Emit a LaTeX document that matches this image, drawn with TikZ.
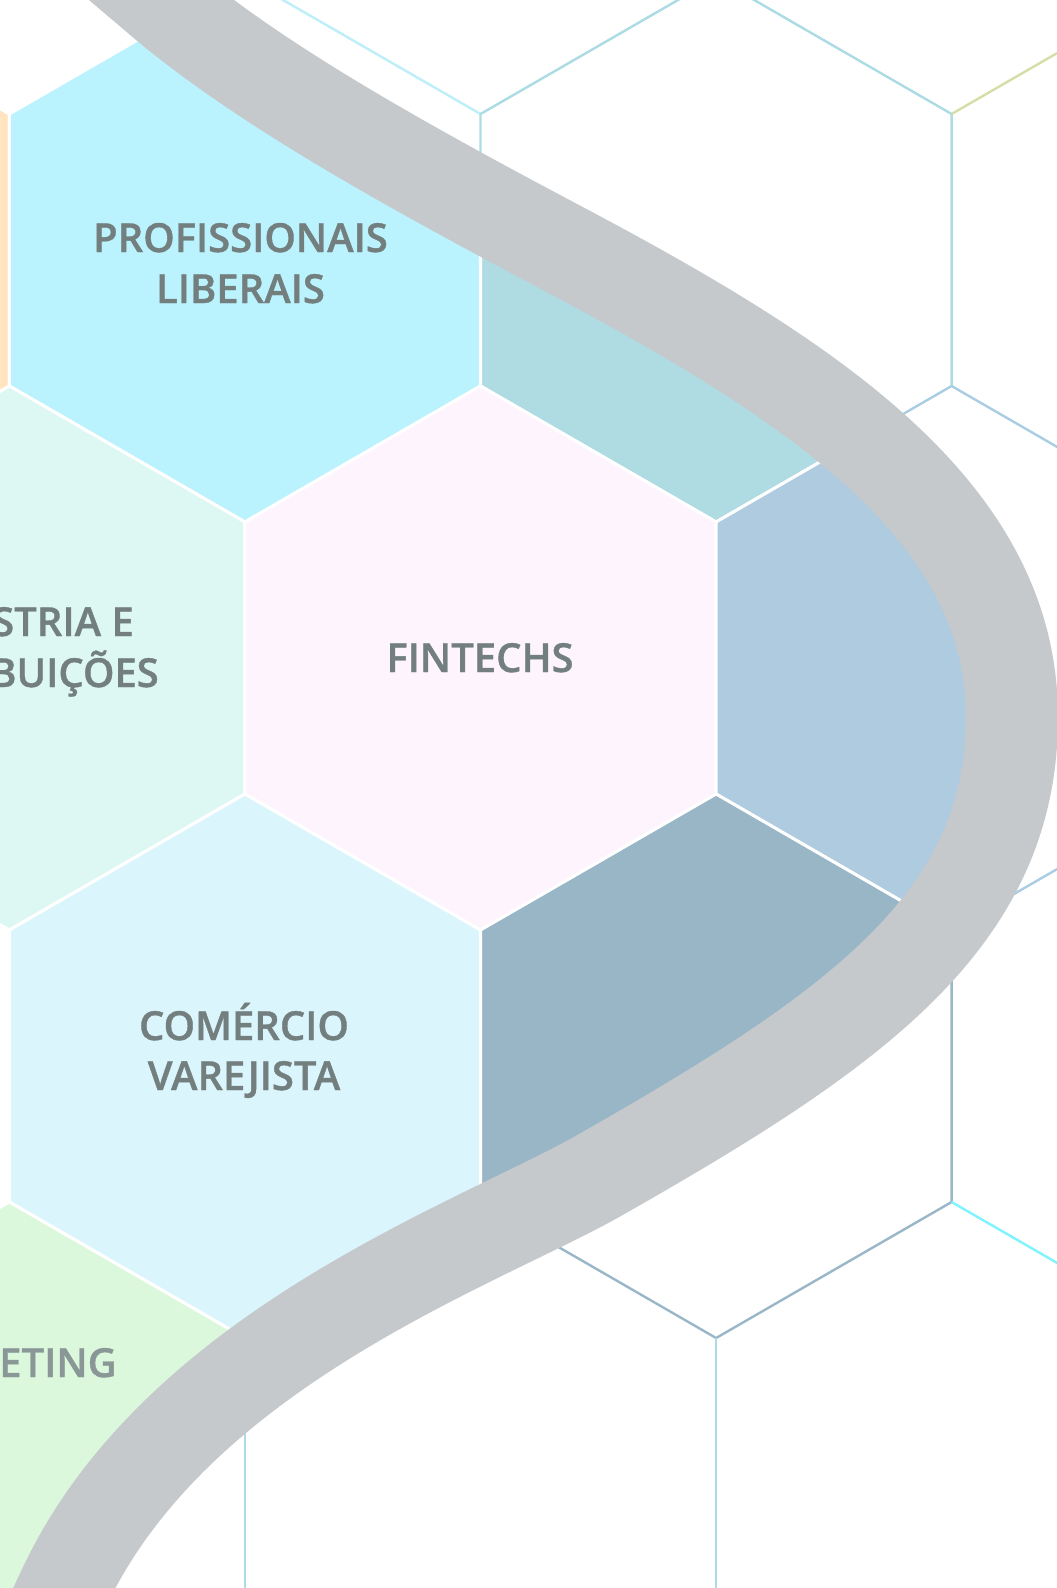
\documentclass[tikz,border=0pt]{standalone}
\usepackage{fontspec}
\IfFontExistsTF{Open Sans SemiBold}{\newfontfamily\lab{Open Sans SemiBold}[FakeBold=0.9]}{%
  \IfFontExistsTF{Open Sans Semibold}{\newfontfamily\lab{Open Sans Semibold}[FakeBold=0.9]}{%
    \newfontfamily\lab{Open Sans Bold}}}
\definecolor{bandc}{HTML}{C6C9CC}
\definecolor{txt}{HTML}{737F7F}
\definecolor{txtm}{HTML}{8A9797}
\definecolor{cpeach}{HTML}{FFE4BF}
\definecolor{cprof}{HTML}{BAF3FD}
\definecolor{cteal}{HTML}{AFDBE2}
\definecolor{cind}{HTML}{DDF8F3}
\definecolor{cfin}{HTML}{FEF4FD}
\definecolor{crb}{HTML}{AFCBE0}
\definecolor{ccom}{HTML}{DBF5FC}
\definecolor{cdb}{HTML}{99B6C7}
\definecolor{cmkt}{HTML}{DCF8DC}
\definecolor{lcyan}{HTML}{BDEFF8}
\definecolor{lteal}{HTML}{ABDCE4}
\definecolor{lkhaki}{HTML}{D3DFA6}
\definecolor{lblue}{HTML}{A9CEE3}
\definecolor{lslate}{HTML}{9AB7C8}
\definecolor{laqua}{HTML}{7FF4FF}
\begin{document}
\begin{tikzpicture}[x=1pt,y=-1pt,
  hexp/.style 2 args={insert path={(#1,#2-272) -- ++(235.56,136) -- ++(0,272) -- ++(-235.56,136) -- ++(-235.56,-136) -- ++(0,-272) -- cycle}},
  bandpath/.style={insert path={(90,-59.5) -- (160,0) .. controls (260,85) and (410,167.5) .. (560,247) .. controls (815,382) and (1012,512) .. (1012,717) .. controls (1012,920) and (855,1030) .. (600,1175) .. controls (480,1243.4) and (176.8,1348) .. (64,1588) -- (17,1688)}},
  hexfill/.style={fill=#1, draw=white, line width=3pt, line join=miter},
  gridline/.style={draw=#1, line width=2.4pt},
  band/.style={draw=bandc, line width=92pt},
  lbl/.style={text=txt, font=\lab\fontsize{40}{48}\selectfont, inner sep=0pt}]
\fill[white] (0,0) rectangle (1057,1588);
\useasboundingbox (0,0) rectangle (1057,1588);
\clip (0,0) rectangle (1057,1588);
% grid vertices on the right of the band
\coordinate (a1) at (244.9,-22);
\coordinate (a2) at (480.5,114);
\coordinate (a3) at (716.1,-22);
\coordinate (a4) at (951.6,114);
\coordinate (a5) at (1187.2,-22);
\coordinate (b1) at (480.5,386);
\coordinate (b2) at (951.6,386);
\coordinate (b3) at (1187.2,522);
\coordinate (b4) at (716.1,522);
\coordinate (c1) at (951.6,930);
\coordinate (c2) at (1187.2,794);
\coordinate (d1) at (951.6,1202);
\coordinate (d2) at (716.1,1338);
\coordinate (d3) at (1187.2,1338);
\coordinate (d4) at (480.5,1202);
\coordinate (d5) at (716.1,1610);
\coordinate (d6) at (244.9,1338);
\coordinate (d7) at (244.9,1610);
\draw[gridline=lcyan] (a1) -- (a2);
\draw[gridline=lteal] (a2) -- (a3) (a3) -- (a4) (a2) -- (b1) (a4) -- (b2);
\draw[gridline=lkhaki] (a4) -- (a5);
\draw[gridline=lblue] (b2) -- (b3) (b2) -- (b4) (c1) -- (c2);
\draw[gridline=lslate] (c1) -- (d1) (d1) -- (d2) (d2) -- (d4);
\draw[gridline=laqua] (d1) -- (d3);
\draw[gridline=lteal] (d2) -- (d5) (d6) -- (d7);
% filled hexagons, left of the band
\begin{scope}
\clip[bandpath] -- (-300,1688) -- (-300,-59.5) -- cycle;
\path[hexfill=cpeach, hexp={-226.2}{250}];
\path[hexfill=cprof, hexp={244.9}{250}];
\path[hexfill=cteal, hexp={716.1}{250}];
\path[hexfill=cind, hexp={9.4}{658}];
\path[hexfill=cfin, hexp={480.5}{658}];
\path[hexfill=crb, hexp={951.6}{658}];
\path[hexfill=ccom, hexp={244.9}{1066}];
\path[hexfill=cdb, hexp={716.1}{1066}];
\path[hexfill=cmkt, hexp={9.4}{1474}];
\end{scope}
% labels
\node[lbl, anchor=base] (prof1) at (240.5,252) {PROFISSIONAIS};
\node[lbl, anchor=base] (prof2) at (240.5,303) {LIBERAIS};
\node[lbl, anchor=base east] (ind1) at (134,636) {INDÚSTRIA E};
\node[lbl, anchor=base east] (ind2) at (159,687) {DISTRIBUIÇÕES};
\node[lbl, anchor=base] (fin) at (480,672) {FINTECHS};
\node[lbl, anchor=base] (com1) at (244,1040) {COMÉRCIO};
\node[lbl, anchor=base] (com2) at (244,1090) {VAREJISTA};
\node[lbl, anchor=base east, text=txtm] (mkt) at (117,1377) {MARKETING};
% the band
\draw[band, bandpath];
\end{tikzpicture}
\end{document}
